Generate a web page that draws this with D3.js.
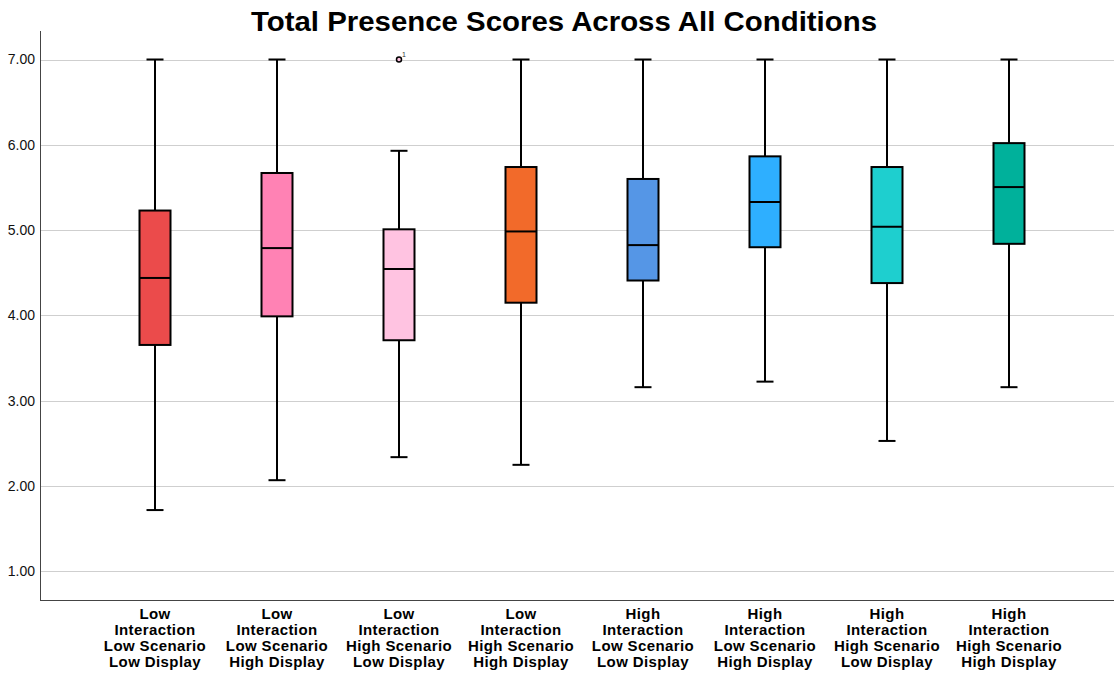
<!DOCTYPE html>
<html>
    <head>
        <title>Total Presence Scores</title>
        <script src="https://d3js.org/d3.v7.min.js"></script>
        <style>
         body { margin: 0; background: #fff; }
         svg { display: block; font-family: "Liberation Sans", Arial, sans-serif; }
        </style>
    </head>
    <body>
        <svg width="1116" height="675"></svg>
        <script>
         // condition names, one line per row of the label
         const categories = [
             ["Low", "Interaction", "Low Scenario", "Low Display"],
             ["Low", "Interaction", "Low Scenario", "High Display"],
             ["Low", "Interaction", "High Scenario", "Low Display"],
             ["Low", "Interaction", "High Scenario", "High Display"],
             ["High", "Interaction", "Low Scenario", "Low Display"],
             ["High", "Interaction", "Low Scenario", "High Display"],
             ["High", "Interaction", "High Scenario", "Low Display"],
             ["High", "Interaction", "High Scenario", "High Display"]
         ];
         const whiskerHigh = [7.00, 7.00, 5.93, 7.00, 7.00, 7.00, 7.00, 7.00];
         const q3 =          [5.23, 5.67, 5.01, 5.74, 5.60, 5.865, 5.74, 6.02];
         const medians =     [4.44, 4.79, 4.545, 4.985, 4.825, 5.33, 5.04, 5.505];
         const q1 =          [3.655, 3.99, 3.71, 4.15, 4.41, 4.80, 4.38, 4.84];
         const whiskerLow =  [1.72, 2.07, 2.34, 2.25, 3.16, 3.225, 2.53, 3.16];
         const colors = ["#eb4b4b", "#ff82b4", "#ffc3e1", "#f26a2a", "#5596e6", "#2eafff", "#1ecfcf", "#00b19b"];
         // outliers: [category index, value, case label]
         const outliers = [[2, 7.00, "1"]];
         const yTicks = [1, 2, 3, 4, 5, 6, 7];

         const svg = d3.select("svg");
         const plotLeft = 40, plotRight = 1114, plotTop = 31, plotBottom = 600;

         const ids = categories.map((c, i) => i);
         const x = d3.scaleBand().domain(ids).range([94, 1070]);
         const y = d3.scaleLinear().domain([0.666, 7.334]).range([plotBottom, plotTop]);
         const boxW = 31, capW = 17;

         // gridlines
         svg.append("g")
            .selectAll("line")
            .data(yTicks)
            .join("line")
            .attr("x1", plotLeft).attr("x2", plotRight)
            .attr("y1", d => Math.round(y(d)) + 0.5)
            .attr("y2", d => Math.round(y(d)) + 0.5)
            .attr("stroke", "#cfcfcf")
            .attr("stroke-width", 1);

         // y axis
         const yAxis = svg.append("g")
            .attr("transform", `translate(${plotLeft},0)`)
            .call(d3.axisLeft(y).tickValues(yTicks).tickFormat(d3.format(".2f")).tickSize(0).tickPadding(5));
         yAxis.select(".domain").remove();
         yAxis.selectAll("text")
            .attr("font-size", 14)
            .attr("font-family", "Liberation Sans, Arial, sans-serif")
            .attr("fill", "#111");

         // axis lines
         svg.append("line")
            .attr("x1", plotLeft + 0.5).attr("x2", plotLeft + 0.5)
            .attr("y1", plotTop).attr("y2", plotBottom + 0.5)
            .attr("stroke", "#444");
         svg.append("line")
            .attr("x1", plotLeft).attr("x2", plotRight)
            .attr("y1", plotBottom + 0.5).attr("y2", plotBottom + 0.5)
            .attr("stroke", "#444");

         const cx = i => x(i) + x.bandwidth() / 2;

         const boxes = svg.append("g")
            .selectAll("g")
            .data(ids)
            .join("g");

         // whiskers
         boxes.append("line")
              .attr("x1", cx).attr("x2", cx)
              .attr("y1", i => y(whiskerHigh[i])).attr("y2", i => y(q3[i]))
              .attr("stroke", "#000").attr("stroke-width", 2);
         boxes.append("line")
              .attr("x1", cx).attr("x2", cx)
              .attr("y1", i => y(q1[i])).attr("y2", i => y(whiskerLow[i]))
              .attr("stroke", "#000").attr("stroke-width", 2);
         boxes.append("line")
              .attr("x1", i => cx(i) - capW / 2).attr("x2", i => cx(i) + capW / 2)
              .attr("y1", i => y(whiskerHigh[i])).attr("y2", i => y(whiskerHigh[i]))
              .attr("stroke", "#000").attr("stroke-width", 2);
         boxes.append("line")
              .attr("x1", i => cx(i) - capW / 2).attr("x2", i => cx(i) + capW / 2)
              .attr("y1", i => y(whiskerLow[i])).attr("y2", i => y(whiskerLow[i]))
              .attr("stroke", "#000").attr("stroke-width", 2);

         // boxes
         boxes.append("rect")
              .attr("x", i => cx(i) - boxW / 2)
              .attr("width", boxW)
              .attr("y", i => y(q3[i]))
              .attr("height", i => y(q1[i]) - y(q3[i]))
              .attr("fill", i => colors[i])
              .attr("stroke", "#000").attr("stroke-width", 2);
         boxes.append("line")
              .attr("x1", i => cx(i) - boxW / 2).attr("x2", i => cx(i) + boxW / 2)
              .attr("y1", i => y(medians[i])).attr("y2", i => y(medians[i]))
              .attr("stroke", "#000").attr("stroke-width", 2);

         // outliers
         const out = svg.append("g").selectAll("g").data(outliers).join("g");
         out.append("circle")
            .attr("cx", d => cx(d[0]))
            .attr("cy", d => y(d[1]))
            .attr("r", 2.5)
            .attr("fill", d => colors[d[0]])
            .attr("stroke", "#000").attr("stroke-width", 1.5);
         out.append("text")
            .attr("x", d => cx(d[0]) + 3)
            .attr("y", d => y(d[1]) - 3)
            .attr("font-size", 7)
            .attr("fill", "#333")
            .text(d => d[2]);

         // category labels
         const labels = svg.append("g")
            .selectAll("text")
            .data(ids)
            .join("text")
            .attr("text-anchor", "middle")
            .attr("font-size", 15)
            .attr("font-weight", "bold")
            .attr("letter-spacing", 0.4)
            .attr("fill", "#000");
         labels.selectAll("tspan")
            .data(i => categories[i].map(t => ({i, t})))
            .join("tspan")
            .attr("x", d => cx(d.i))
            .attr("y", (d, k) => 619 + k * 16)
            .text(d => d.t);

         // title
         svg.append("text")
            .attr("x", 564)
            .attr("y", 31)
            .attr("text-anchor", "middle")
            .attr("font-size", 28)
            .attr("font-weight", "bold")
            .attr("textLength", 626)
            .attr("lengthAdjust", "spacingAndGlyphs")
            .text("Total Presence Scores Across All Conditions");
        </script>
    </body>
</html>
